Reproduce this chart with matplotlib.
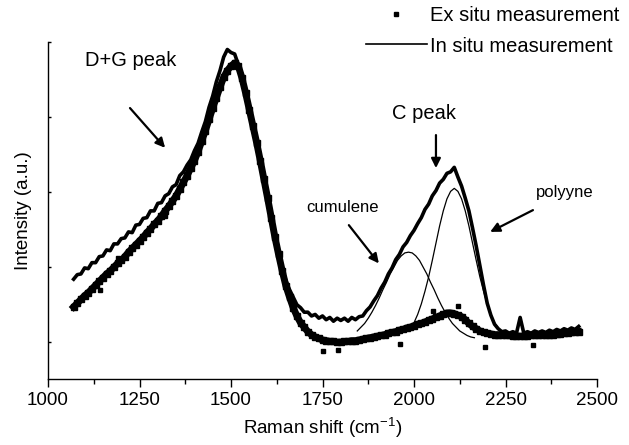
import numpy as np
import matplotlib
matplotlib.use("Agg")
import matplotlib.pyplot as plt
from matplotlib.lines import Line2D
from matplotlib.ticker import MultipleLocator, NullFormatter

plt.rcParams['font.family'] = ['Liberation Sans', 'DejaVu Sans']
plt.rcParams['mathtext.fontset'] = 'custom'
plt.rcParams['mathtext.rm'] = 'Liberation Sans'
plt.rcParams['mathtext.default'] = 'regular'

# Raman shift grid (cm-1) for both measured spectra
shift = np.arange(1070, 2451, 10)

# in situ spectrum (arbitrary units)
in_situ = [
    0.84, 0.90, 0.91, 0.99, 0.98, 1.06, 1.06, 1.14, 1.15, 1.23,
    1.22, 1.31, 1.31, 1.38, 1.39, 1.47, 1.46, 1.56, 1.57, 1.65,
    1.66, 1.75, 1.75, 1.85, 1.86, 1.95, 1.98, 2.07, 2.10, 2.22,
    2.27, 2.36, 2.43, 2.55, 2.65, 2.80, 2.94, 3.13, 3.28, 3.47,
    3.62, 3.80, 3.90, 3.86, 3.84, 3.70, 3.56, 3.33, 3.12, 2.88,
    2.66, 2.42, 2.18, 1.92, 1.68, 1.42, 1.20, 0.98, 0.82, 0.70,
    0.60, 0.50, 0.46, 0.40, 0.40, 0.35, 0.37, 0.32, 0.35, 0.30,
    0.33, 0.28, 0.32, 0.29, 0.32, 0.28, 0.33, 0.30, 0.34, 0.35,
    0.42, 0.47, 0.55, 0.62, 0.72, 0.80, 0.91, 0.99, 1.10, 1.17,
    1.27, 1.33, 1.42, 1.49, 1.58, 1.66, 1.77, 1.84, 1.95, 2.02,
    2.12, 2.17, 2.25, 2.27, 2.33, 2.20, 2.08, 1.92, 1.75, 1.52,
    1.28, 1.02, 0.76, 0.52, 0.36, 0.24, 0.18, 0.14, 0.15, 0.12,
    0.14, 0.12, 0.33, 0.12, 0.14, 0.12, 0.15, 0.13, 0.15, 0.13,
    0.16, 0.14, 0.17, 0.15, 0.18, 0.16, 0.19, 0.17, 0.21,
]

# ex situ spectrum
ex_situ = [
    0.47, 0.52, 0.57, 0.62, 0.66, 0.71, 0.76, 0.81, 0.86, 0.91,
    0.95, 1.00, 1.05, 1.09, 1.14, 1.20, 1.25, 1.30, 1.35, 1.40,
    1.46, 1.51, 1.57, 1.62, 1.68, 1.75, 1.81, 1.88, 1.95, 2.04,
    2.13, 2.22, 2.32, 2.42, 2.54, 2.68, 2.82, 2.97, 3.12, 3.26,
    3.40, 3.53, 3.62, 3.68, 3.72, 3.68, 3.52, 3.32, 3.10, 2.88,
    2.66, 2.42, 2.17, 1.92, 1.66, 1.40, 1.17, 0.95, 0.75, 0.60,
    0.46, 0.35, 0.26, 0.20, 0.14, 0.10, 0.07, 0.05, 0.03, 0.02,
    0.01, 0.01, 0.00, 0.00, 0.01, 0.01, 0.02, 0.02, 0.03, 0.04,
    0.05, 0.06, 0.07, 0.08, 0.09, 0.10, 0.12, 0.13, 0.14, 0.16,
    0.17, 0.19, 0.20, 0.22, 0.24, 0.25, 0.27, 0.29, 0.31, 0.33,
    0.35, 0.37, 0.39, 0.39, 0.38, 0.36, 0.34, 0.30, 0.25, 0.21,
    0.18, 0.15, 0.13, 0.12, 0.11, 0.10, 0.10, 0.09, 0.09, 0.09,
    0.08, 0.08, 0.08, 0.08, 0.08, 0.09, 0.09, 0.09, 0.09, 0.10,
    0.10, 0.10, 0.11, 0.11, 0.12, 0.12, 0.13, 0.13, 0.14,
]

# stray ex situ points
ex_out_x = [1142, 1191, 1320, 1751, 1793, 1962, 2052, 2120, 2194, 2325]
ex_out_y = [0.70, 1.12, 1.68, -0.12, -0.10, -0.03, 0.42, 0.48, -0.07, -0.04]

# fitted components
cum_x = np.arange(1845, 2166, 10)
cumulene = [
    0.15, 0.20, 0.25, 0.32, 0.40, 0.49, 0.59, 0.70, 0.80, 0.91,
    1.00, 1.09, 1.15, 1.19, 1.20, 1.19, 1.15, 1.09, 1.00, 0.91,
    0.80, 0.70, 0.59, 0.49, 0.40, 0.32, 0.25, 0.20, 0.15, 0.12,
    0.09, 0.07, 0.06,
]
poly_x = np.arange(2000, 2231, 10)
polyyne = [
    0.26, 0.37, 0.51, 0.68, 0.87, 1.09, 1.32, 1.55, 1.75, 1.91,
    2.01, 2.05, 2.01, 1.91, 1.75, 1.55, 1.32, 1.09, 0.87, 0.68,
    0.51, 0.37, 0.26, 0.19,
]

fig = plt.figure(figsize=(6.29, 4.45), dpi=100)
ax = fig.add_axes([48/629, 66/445, 549/629, 337/445])

ax.plot(shift, ex_situ, color='k', lw=5, ls='-', marker='s', ms=4, zorder=2)
ax.plot(ex_out_x, ex_out_y, 's', color='k', ms=3.5, zorder=2)
ax.plot(shift, in_situ, color='k', lw=2.6, zorder=3)
ax.plot(cum_x, cumulene, color='k', lw=0.9, zorder=4)
ax.plot(poly_x, polyyne, color='k', lw=0.9, zorder=4)

ax.set_xlim(1000, 2500)
ax.set_ylim(-0.49, 4.0)
ax.xaxis.set_major_locator(MultipleLocator(250))
ax.xaxis.set_minor_locator(MultipleLocator(125))
ax.yaxis.set_major_locator(MultipleLocator(1))
ax.yaxis.set_major_formatter(NullFormatter())
ax.tick_params(axis='x', which='major', direction='out', length=6, width=1, labelsize=13.5)
ax.tick_params(axis='x', which='minor', direction='out', length=3.5, width=1)
ax.tick_params(axis='y', which='major', direction='in', length=2, width=1)
ax.spines['top'].set_visible(False)
ax.spines['right'].set_visible(False)
ax.spines['left'].set_linewidth(1)
ax.spines['bottom'].set_linewidth(1)

ax.set_xlabel('Raman shift (cm$^{-1}$)', fontsize=13.5, labelpad=5)
ax.set_ylabel('Intensity (a.u.)', fontsize=13.5, labelpad=8)

arrow = dict(arrowstyle='-|>', color='k', lw=1.6, mutation_scale=14, shrinkA=0, shrinkB=0)
ax.text(1227, 3.76, 'D+G peak', fontsize=14.5, ha='center', va='center')
ax.annotate('', xy=(1320, 2.59), xytext=(1224, 3.12), arrowprops=arrow)
ax.text(2027, 3.05, 'C peak', fontsize=14.5, ha='center', va='center')
ax.annotate('', xy=(2060, 2.32), xytext=(2060, 2.76), arrowprops=arrow)
ax.text(1806, 1.80, 'cumulene', fontsize=12, ha='center', va='center')
ax.annotate('', xy=(1904, 1.05), xytext=(1822, 1.56), arrowprops=arrow)
ax.text(2413, 1.99, 'polyyne', fontsize=12, ha='center', va='center')
ax.annotate('', xy=(2208, 1.47), xytext=(2325, 1.76), arrowprops=arrow)

handles = [Line2D([], [], ls='none', marker='s', ms=3, color='k'),
           Line2D([], [], color='k', lw=1.2)]
fig.legend(handles, ['Ex situ measurement', 'In situ measurement'],
           loc='upper right', bbox_to_anchor=(621/629, 0.99), frameon=False,
           fontsize=14.5, handlelength=3.0, handletextpad=0.15, labelspacing=0.55,
           borderpad=0.1, borderaxespad=0)

fig.savefig('out.png', dpi=100)
